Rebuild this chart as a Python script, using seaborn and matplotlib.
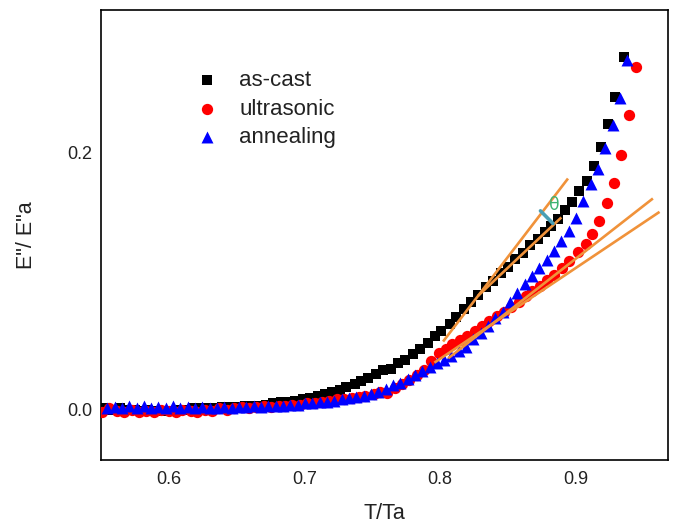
import matplotlib
matplotlib.use("Agg")
import matplotlib.pyplot as plt
import seaborn as sns
import pandas as pd
from matplotlib.ticker import MultipleLocator, FixedLocator, FuncFormatter

# ---------------- data ----------------
ascast_T = [0.553, 0.558, 0.564, 0.569, 0.575, 0.580, 0.585, 0.591, 0.596, 0.602,
            0.607, 0.612, 0.618, 0.623, 0.629, 0.634, 0.639, 0.645, 0.650, 0.656,
            0.661, 0.666, 0.672, 0.677, 0.683, 0.688, 0.693, 0.699, 0.704, 0.710,
            0.715, 0.720, 0.726, 0.731, 0.737, 0.742, 0.747, 0.753, 0.758, 0.764,
            0.769, 0.774, 0.780, 0.785, 0.791, 0.796, 0.801, 0.807, 0.812, 0.818,
            0.823, 0.828, 0.834, 0.839, 0.845, 0.850, 0.855, 0.861, 0.866, 0.872,
            0.877, 0.882, 0.887, 0.892, 0.8975, 0.9026, 0.908, 0.9134, 0.9188, 0.9237,
            0.9286, 0.9353]
ascast_E = [0.001, 0.000, 0.001, 0.000, 0.000, -0.001, 0.000, -0.001, -0.001, -0.001,
            0.000, 0.000, 0.001, 0.001, 0.001, 0.001, 0.002, 0.002, 0.002, 0.003,
            0.003, 0.003, 0.004, 0.005, 0.006, 0.006, 0.007, 0.008, 0.009, 0.011,
            0.012, 0.014, 0.015, 0.018, 0.020, 0.022, 0.025, 0.028, 0.031, 0.032,
            0.036, 0.039, 0.043, 0.047, 0.052, 0.057, 0.061, 0.067, 0.072, 0.078,
            0.084, 0.089, 0.095, 0.100, 0.106, 0.111, 0.117, 0.122, 0.128, 0.133,
            0.138, 0.143, 0.148, 0.155, 0.161, 0.170, 0.178, 0.189, 0.204, 0.222,
            0.243, 0.274]

ultra_T = [0.551, 0.556, 0.562, 0.567, 0.573, 0.578, 0.583, 0.589, 0.594, 0.600,
           0.605, 0.610, 0.616, 0.621, 0.627, 0.632, 0.637, 0.643, 0.648, 0.654,
           0.659, 0.664, 0.670, 0.675, 0.681, 0.686, 0.691, 0.697, 0.702, 0.708,
           0.713, 0.718, 0.724, 0.729, 0.735, 0.740, 0.745, 0.751, 0.756, 0.761,
           0.767, 0.772, 0.777, 0.783, 0.788, 0.793, 0.799, 0.804, 0.809, 0.815,
           0.820, 0.826, 0.831, 0.836, 0.842, 0.847, 0.852, 0.858, 0.863, 0.868,
           0.874, 0.879, 0.884, 0.890, 0.8953, 0.902, 0.9075, 0.9123, 0.9175, 0.9231,
           0.9283, 0.9332, 0.9391, 0.9448]
ultra_E = [-0.002, 0.001, -0.001, -0.002, 0.000, -0.002, -0.001, -0.002, 0.000, -0.001,
           -0.002, 0.000, -0.001, -0.002, 0.000, -0.001, 0.001, 0.000, 0.001, 0.002,
           0.001, 0.002, 0.003, 0.002, 0.003, 0.003, 0.004, 0.004, 0.005, 0.005,
           0.006, 0.007, 0.008, 0.008, 0.009, 0.010, 0.011, 0.012, 0.014, 0.013,
           0.017, 0.020, 0.023, 0.027, 0.031, 0.038, 0.044, 0.047, 0.051, 0.054,
           0.057, 0.061, 0.065, 0.069, 0.073, 0.076, 0.080, 0.084, 0.088, 0.092,
           0.096, 0.101, 0.105, 0.110, 0.1158, 0.1223, 0.1287, 0.1369, 0.1467, 0.1604,
           0.176, 0.1977, 0.229, 0.2664]

anneal_T = [0.5546, 0.56, 0.5654, 0.5708, 0.5762, 0.5816, 0.587, 0.5924, 0.5978, 0.6032,
            0.6086, 0.614, 0.6194, 0.6248, 0.6302, 0.6356, 0.641, 0.6464, 0.6518, 0.6572,
            0.6626, 0.668, 0.6734, 0.6788, 0.6842, 0.6896, 0.695, 0.7004, 0.7058, 0.7112,
            0.7166, 0.722, 0.7274, 0.7328, 0.7382, 0.7436, 0.749, 0.7544, 0.7598, 0.7652,
            0.7706, 0.776, 0.7814, 0.7868, 0.7922, 0.7976, 0.803, 0.8084, 0.8138, 0.8192,
            0.8246, 0.83, 0.8354, 0.8408, 0.8462, 0.8516, 0.857, 0.8624, 0.8678, 0.8732,
            0.8786, 0.884, 0.8894, 0.8948, 0.9002, 0.9056, 0.911, 0.9164, 0.9218, 0.9272,
            0.9326, 0.938]
anneal_E = [0.001, 0.002, 0.001, 0.003, 0.001, 0.003, 0.001, 0.002, 0.001, 0.003,
            0.001, 0.002, 0.001, 0.002, 0.001, 0.001, 0.002, 0.001, 0.002, 0.002,
            0.003, 0.002, 0.003, 0.003, 0.003, 0.004, 0.004, 0.005, 0.005, 0.006,
            0.006, 0.007, 0.008, 0.009, 0.010, 0.011, 0.012, 0.014, 0.016, 0.019,
            0.021, 0.024, 0.027, 0.030, 0.033, 0.036, 0.039, 0.042, 0.046, 0.049,
            0.055, 0.060, 0.065, 0.071, 0.076, 0.084, 0.091, 0.098, 0.104, 0.110,
            0.116, 0.123, 0.131, 0.139, 0.149, 0.162, 0.175, 0.187, 0.203, 0.221,
            0.242, 0.272]

series_names = ["as-cast", "ultrasonic", "annealing"]

# tangent (fit) lines drawn in the reference: (T_start, T_end), (E_start, E_end)
tangent_T = [(0.8022, 0.8943), (0.828, 0.8894), (0.806, 0.9569), (0.7958, 0.9618)]
tangent_E = [(0.0530, 0.1796), (0.0885, 0.1494), (0.040, 0.1641), (0.0366, 0.1537)]
theta_T = (0.8740, 0.8832)
theta_E = (0.1545, 0.1447)
theta_label_pos = (0.8800, 0.1590)

x_label = "T/Ta"
y_label = 'E"/ E"a'

# ---------------- build figure ----------------
sns.set_theme(style="white")
plt.rcParams["font.family"] = ["Liberation Sans", "DejaVu Sans"]

fig = plt.figure(figsize=(6.86, 5.25), dpi=100)
ax = fig.add_axes([0.1472, 0.1238, 0.8265, 0.8572])

df = pd.concat([
    pd.DataFrame({"T": ascast_T, "E": ascast_E, "sample": series_names[0]}),
    pd.DataFrame({"T": ultra_T, "E": ultra_E, "sample": series_names[1]}),
    pd.DataFrame({"T": anneal_T, "E": anneal_E, "sample": series_names[2]}),
], ignore_index=True)

styles = {
    "as-cast": dict(color="#000000", marker="s", s=58),
    "ultrasonic": dict(color="#ff0000", marker="o", s=66),
    "annealing": dict(color="#0000ff", marker="^", s=74),
}
for name in series_names:
    st = styles[name]
    sns.scatterplot(data=df[df["sample"] == name], x="T", y="E", ax=ax,
                    color=st["color"], marker=st["marker"], s=st["s"],
                    linewidth=0, label=name, zorder=3 if name != "as-cast" else 2)

for tt, ee in zip(tangent_T, tangent_E):
    ax.plot(tt, ee, color="#f0923a", lw=1.9, zorder=4, solid_capstyle="butt")
ax.plot(theta_T, theta_E, color="#4a9fb5", lw=2.6, zorder=5)
ax.text(theta_label_pos[0], theta_label_pos[1], "θ", color="#3cb371",
        fontsize=12.5, ha="left", va="center", zorder=5,
        family=["DejaVu Sans"])

ax.set_xlim(0.55, 0.968)
ax.set_ylim(-0.039, 0.3105)

ax.xaxis.set_major_locator(MultipleLocator(0.1))
ax.xaxis.set_minor_locator(MultipleLocator(0.05))
ax.yaxis.set_major_locator(FixedLocator([0.0, 0.2]))
ax.yaxis.set_minor_locator(FixedLocator([0.1, 0.3]))
ax.xaxis.set_major_formatter(FuncFormatter(lambda v, p: f"{v:.1f}"))
ax.yaxis.set_major_formatter(FuncFormatter(lambda v, p: f"{v:.1f}"))

ax.tick_params(axis="both", which="both", direction="in", color="#000000",
               width=1.0, labelsize=13, labelcolor="#222222")
ax.tick_params(axis="x", which="major", length=5, pad=8)
ax.tick_params(axis="x", which="minor", length=3)
ax.tick_params(axis="y", which="major", length=5, pad=6)
ax.tick_params(axis="y", which="minor", length=5)
ax.tick_params(top=False, right=False)

for sp in ax.spines.values():
    sp.set_visible(True)
    sp.set_color("#000000")
    sp.set_linewidth(1.2)

ax.set_xlabel(x_label, fontsize=15.5, color="#222222")
ax.set_ylabel(y_label, fontsize=15.5, color="#222222")
ax.xaxis.set_label_coords(0.5, -0.095)
ax.yaxis.set_label_coords(-0.112, 0.5)

leg = ax.legend(loc="upper left", bbox_to_anchor=(0.1675, 0.866), frameon=False,
                fontsize=16, handlelength=1.0, handletextpad=0.95,
                labelspacing=0.33, borderpad=0, borderaxespad=0,
                markerscale=1.0)
for t in leg.get_texts():
    t.set_color("#222222")

fig.savefig("out.png", dpi=100)
